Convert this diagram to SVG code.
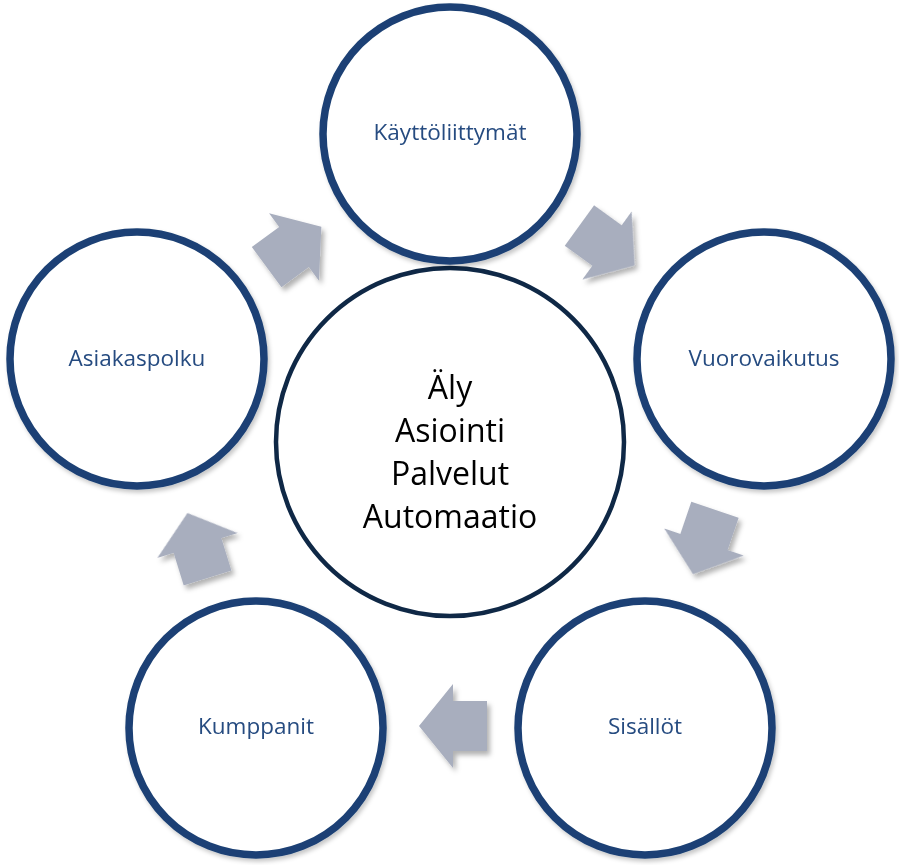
<svg xmlns="http://www.w3.org/2000/svg" width="899" height="865" viewBox="0 0 899 865">
<defs>
<style>
.ring{fill:#ffffff;stroke:#1c4174;stroke-width:7.5}
.hub{fill:#ffffff;stroke:#0f2846;stroke-width:4.5}
.lbl{font-family:"Open Sans","Liberation Sans",sans-serif;font-size:22.5px;fill:#254b80;text-anchor:middle}
.hubt{font-family:"Open Sans","Liberation Sans",sans-serif;font-size:32px;fill:#000000;text-anchor:middle}
.arr{fill:#a8aebe}
</style>
<filter id="sh" x="-20%" y="-20%" width="150%" height="150%">
<feDropShadow dx="3" dy="4" stdDeviation="2.5" flood-color="#000000" flood-opacity="0.3"/>
</filter>
<filter id="csh" x="-10%" y="-10%" width="125%" height="125%">
<feDropShadow dx="2" dy="3" stdDeviation="2" flood-color="#000000" flood-opacity="0.22"/>
</filter>
<polygon id="blk" points="-34,-25 0,-25 0,-42 34,0 0,42 0,25 -34,25"/>
</defs>
<rect width="899" height="865" fill="#ffffff"/>
<g id="connectors" class="arr" filter="url(#sh)">
<use href="#blk" transform="translate(294,247) rotate(-36.4)"/>
<use href="#blk" transform="translate(607,245.5) rotate(35.9)"/>
<use href="#blk" transform="translate(704,542) rotate(108.8)"/>
<use href="#blk" transform="translate(453,726) rotate(180)"/>
<use href="#blk" transform="translate(197.5,545.5) rotate(252.8)"/>
</g>
<g id="hub">
<circle class="hub" cx="450" cy="442" r="174"/>
<text class="hubt" x="450" y="399">Äly</text>
<text class="hubt" x="450" y="442">Asiointi</text>
<text class="hubt" x="450" y="485">Palvelut</text>
<text class="hubt" x="450" y="528">Automaatio</text>
</g>
<g id="kayttoliittymat" filter="url(#csh)">
<circle class="ring" cx="450" cy="134" r="127"/>
<text class="lbl" x="450" y="140">Käyttöliittymät</text>
</g>
<g id="vuorovaikutus" filter="url(#csh)">
<circle class="ring" cx="764" cy="359" r="127"/>
<text class="lbl" x="764" y="366">Vuorovaikutus</text>
</g>
<g id="sisallot" filter="url(#csh)">
<circle class="ring" cx="645" cy="728" r="127"/>
<text class="lbl" x="645" y="734">Sisällöt</text>
</g>
<g id="kumppanit" filter="url(#csh)">
<circle class="ring" cx="256" cy="728" r="127"/>
<text class="lbl" x="256" y="734">Kumppanit</text>
</g>
<g id="asiakaspolku" filter="url(#csh)">
<circle class="ring" cx="137" cy="359" r="127"/>
<text class="lbl" x="137" y="366">Asiakaspolku</text>
</g>
</svg>
